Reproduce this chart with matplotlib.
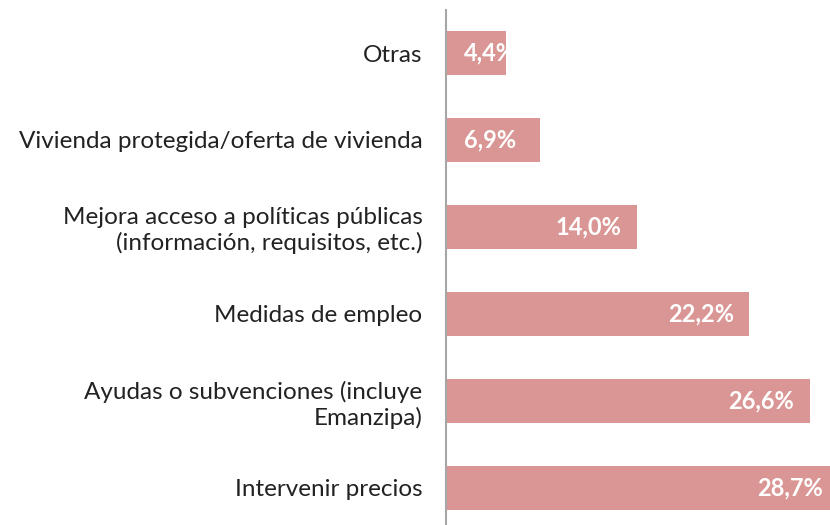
import matplotlib
matplotlib.use('Agg')
import matplotlib.pyplot as plt

categories = ['Intervenir precios',
              'Ayudas o subvenciones (incluye\nEmanzipa)',
              'Medidas de empleo',
              'Mejora acceso a políticas públicas\n(información, requisitos, etc.)',
              'Vivienda protegida/oferta de vivienda',
              'Otras']
values = [28.7, 26.6, 22.2, 14.0, 6.9, 4.4]
labels = ['28,7%', '26,6%', '22,2%', '14,0%', '6,9%', '4,4%']

plt.rcParams['font.family'] = ['Lato', 'DejaVu Sans']

fig = plt.figure(figsize=(8.3, 5.25), dpi=100)
ax = fig.add_axes([446/830, 1 - 531.5/525, 384/830, 522/525])

ypos = list(range(len(categories)))
ax.barh(ypos, values, height=0.506, color='#D99694')
# the longest bar runs off the right edge of the image
ax.set_xlim(0, 28.1)
ax.set_ylim(-0.5, 5.5)

for y, v, t in zip(ypos, values, labels):
    if v < 8:
        # short bars: label starts near the axis (may run past the bar end)
        ax.text(1.3, y, t, ha='left', va='center', color='white',
                fontsize=17, fontweight='bold')
    else:
        ax.text(v - 1.15, y, t, ha='right', va='center', color='white',
                fontsize=17, fontweight='bold')

ax.set_yticks(ypos)
ax.set_yticklabels(categories, fontsize=17.5, color='#222222', ha='right')
ax.tick_params(axis='y', length=0, pad=17)
ax.set_xticks([])
for s in ['top', 'right', 'bottom']:
    ax.spines[s].set_visible(False)
ax.spines['left'].set_color('#A6A6A6')
ax.spines['left'].set_linewidth(1.5)

fig.savefig('out.png', dpi=100)
